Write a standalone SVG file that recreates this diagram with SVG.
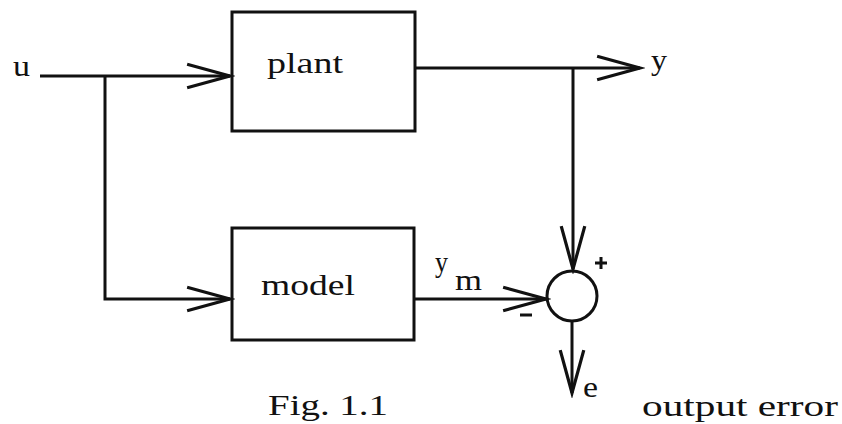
<svg xmlns="http://www.w3.org/2000/svg" width="842" height="424" viewBox="0 0 842 424">
  <style>
    .box { fill: none; stroke: #111; stroke-width: 3; }
    .wire { fill: none; stroke: #111; stroke-width: 3; }
    .lbl { font-family: "Liberation Serif", "DejaVu Serif", serif; font-size: 30px; fill: #111; }
    .sign { stroke: #111; stroke-width: 3; fill: none; }
  </style>
  <defs>
    <marker id="open" markerUnits="userSpaceOnUse" markerWidth="50" markerHeight="30" viewBox="-42 -14 46 28" refX="0" refY="0" orient="auto">
      <path d="M-40,-11 L0,0 L-40,11" fill="none" stroke="#111" stroke-width="3"/>
    </marker>
  </defs>
  <rect width="842" height="424" fill="#fff"/>

  <g id="connectors">
    <path class="wire" d="M40,76 H230" marker-end="url(#open)"/>
    <path class="wire" d="M105,76 V299 H230" marker-end="url(#open)"/>
    <path class="wire" d="M415,68 H640" marker-end="url(#open)"/>
    <path class="wire" d="M573,68 V269" marker-end="url(#open)"/>
    <path class="wire" d="M414,299 H546" marker-end="url(#open)"/>
    <path class="wire" d="M572,321 V393" marker-end="url(#open)"/>
  </g>

  <g id="input-u">
    <text class="lbl" x="13" y="76" textLength="17" lengthAdjust="spacingAndGlyphs">u</text>
  </g>

  <g id="plant">
    <rect class="box" x="232" y="12" width="183" height="119"/>
    <text class="lbl" x="267" y="73" textLength="76" lengthAdjust="spacingAndGlyphs">plant</text>
  </g>

  <g id="model">
    <rect class="box" x="232" y="228" width="182" height="112"/>
    <text class="lbl" x="261" y="295" textLength="94" lengthAdjust="spacingAndGlyphs">model</text>
  </g>

  <g id="output-y">
    <text class="lbl" x="651" y="70" textLength="16" lengthAdjust="spacingAndGlyphs">y</text>
  </g>

  <g id="label-ym">
    <text class="lbl" x="435" y="272" textLength="13" lengthAdjust="spacingAndGlyphs">y</text>
    <text class="lbl" x="455" y="290" textLength="27" lengthAdjust="spacingAndGlyphs">m</text>
  </g>

  <g id="summer">
    <circle class="box" cx="572" cy="296" r="25"/>
    <path class="sign" d="M595,263 H607 M601,257 V269"/>
    <path class="sign" d="M520,315 H532"/>
  </g>

  <g id="output-e">
    <text class="lbl" x="583" y="397" textLength="15" lengthAdjust="spacingAndGlyphs">e</text>
  </g>

  <g id="caption">
    <text class="lbl" x="268" y="415" textLength="120" lengthAdjust="spacingAndGlyphs">Fig. 1.1</text>
    <text class="lbl" x="642" y="416" textLength="196" lengthAdjust="spacingAndGlyphs">output error</text>
  </g>
</svg>
